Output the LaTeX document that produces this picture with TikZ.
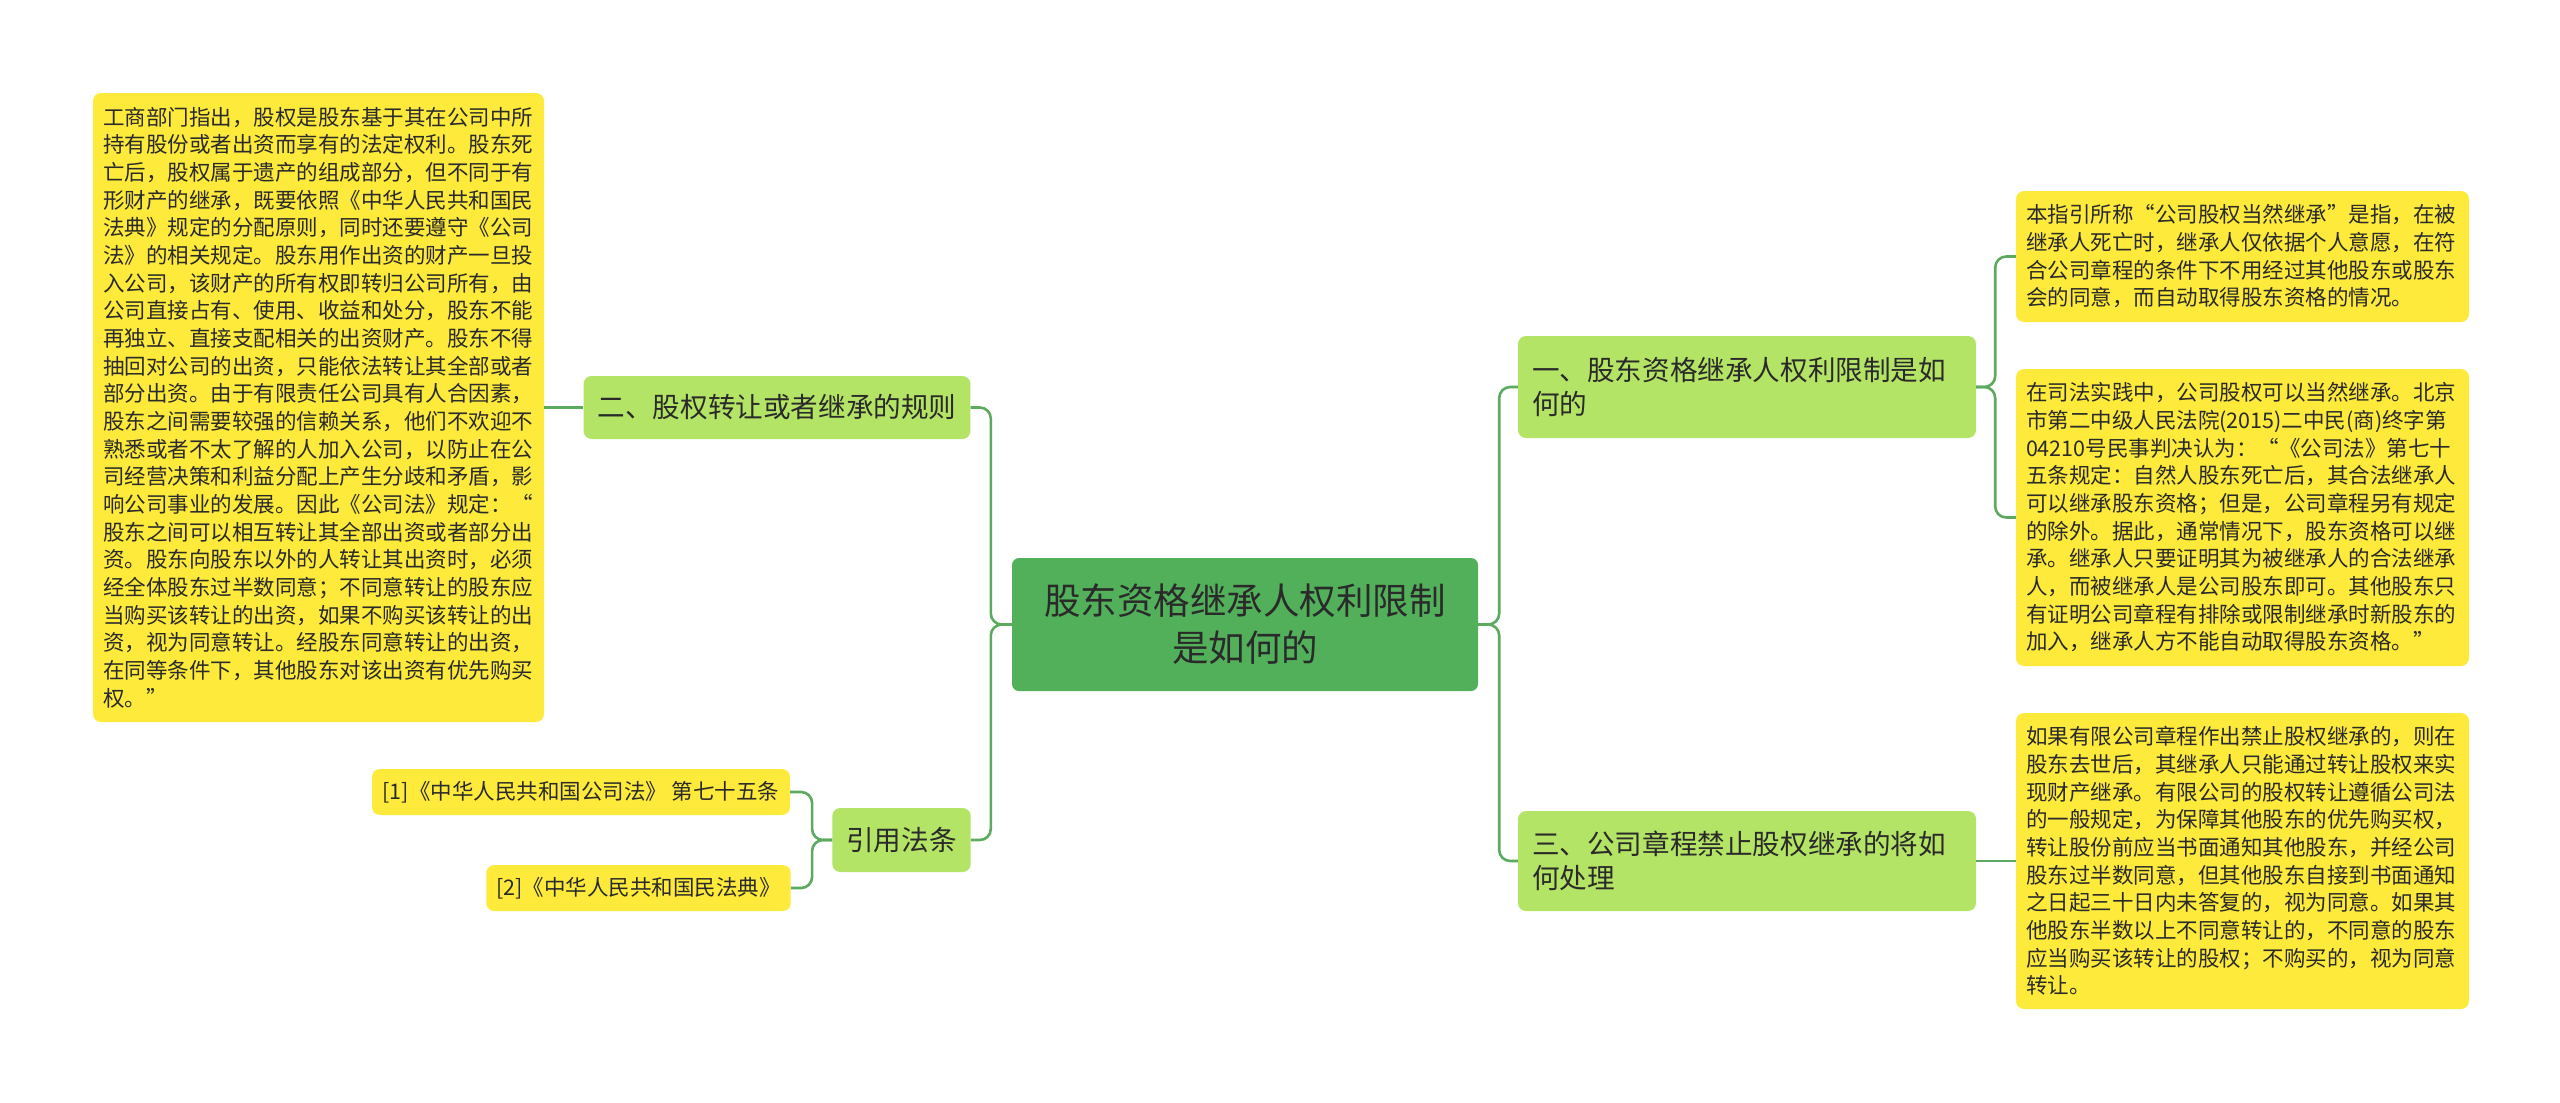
\documentclass[tikz,border=0pt]{standalone}
\usepackage{fontspec}
\setmainfont{Noto Sans CJK SC}

\definecolor{dunkelgruen}{HTML}{52B05A}
\definecolor{hellgruen}{HTML}{B4E465}
\definecolor{gelb}{HTML}{FEEA3A}
\definecolor{liniengruen}{HTML}{5BAA5E}
\definecolor{schrift}{HTML}{2A2A2A}

\tikzset{
    wurzel/.style={rectangle, rounded corners=7pt, fill=dunkelgruen, text=schrift, align=center,
        font=\fontsize{36.5}{47}\selectfont, minimum width=466pt, minimum height=133pt},
    ast/.style={rectangle, rounded corners=8pt, fill=hellgruen, text=schrift, align=left,
        font=\fontsize{27.6}{34}\selectfont, inner xsep=14pt},
    blatt/.style={rectangle, rounded corners=8pt, fill=gelb, text=schrift, align=left,
        font=\fontsize{21.5}{27.67}\selectfont, inner xsep=10pt},
    linie/.style={draw=liniengruen, line width=2.6pt, rounded corners=11pt}
}

\begin{document}
\begin{tikzpicture}[x=1pt, y=-1pt]
    \useasboundingbox (0,0) rectangle (2560,1103);
    \path node[wurzel] (W) at (1245,624.5) {股东资格继承人权利限制\\是如何的}
        node[ast, text width=430pt, minimum height=102pt] (E1) at (1747,387) {一、股东资格继承人权利限制是如\\何的}
        node[ast, text width=430pt, minimum height=100pt] (E3) at (1747,861) {三、公司章程禁止股权继承的将如\\何处理}
        node[ast, minimum width=386pt, minimum height=63pt] (E2) at (777,407.5) {二、股权转让或者继承的规则}
        node[ast, minimum width=137pt, minimum height=64pt] (Z) at (901.5,840) {引用法条}
        node[blatt, text width=433pt, minimum height=131pt] (E1a) at (2242.5,256.5) {本指引所称“公司股权当然继承”是指，在被\\继承人死亡时，继承人仅依据个人意愿，在符\\合公司章程的条件下不用经过其他股东或股东\\会的同意，而自动取得股东资格的情况。}
        node[blatt, text width=433pt, minimum height=297pt] (E1b) at (2242.5,517.5) {在司法实践中，公司股权可以当然继承。北京\\市第二中级人民法院(2015)二中民(商)终字第\\04210号民事判决认为：“《公司法》第七十\\五条规定：自然人股东死亡后，其合法继承人\\可以继承股东资格；但是，公司章程另有规定\\的除外。据此，通常情况下，股东资格可以继\\承。继承人只要证明其为被继承人的合法继承\\人，而被继承人是公司股东即可。其他股东只\\有证明公司章程有排除或限制继承时新股东的\\加入，继承人方不能自动取得股东资格。”}
        node[blatt, text width=433pt, minimum height=296pt] (E3a) at (2242.5,861) {如果有限公司章程作出禁止股权继承的，则在\\股东去世后，其继承人只能通过转让股权来实\\现财产继承。有限公司的股权转让遵循公司法\\的一般规定，为保障其他股东的优先购买权，\\转让股份前应当书面通知其他股东，并经公司\\股东过半数同意，但其他股东自接到书面通知\\之日起三十日内未答复的，视为同意。如果其\\他股东半数以上不同意转让的，不同意的股东\\应当购买该转让的股权；不购买的，视为同意\\转让。}
        node[blatt, text width=431pt, minimum height=629pt] (E2a) at (318.5,407.5) {工商部门指出，股权是股东基于其在公司中所\\持有股份或者出资而享有的法定权利。股东死\\亡后，股权属于遗产的组成部分，但不同于有\\形财产的继承，既要依照《中华人民共和国民\\法典》规定的分配原则，同时还要遵守《公司\\法》的相关规定。股东用作出资的财产一旦投\\入公司，该财产的所有权即转归公司所有，由\\公司直接占有、使用、收益和处分，股东不能\\再独立、直接支配相关的出资财产。股东不得\\抽回对公司的出资，只能依法转让其全部或者\\部分出资。由于有限责任公司具有人合因素，\\股东之间需要较强的信赖关系，他们不欢迎不\\熟悉或者不太了解的人加入公司，以防止在公\\司经营决策和利益分配上产生分歧和矛盾，影\\响公司事业的发展。因此《公司法》规定：“\\股东之间可以相互转让其全部出资或者部分出\\资。股东向股东以外的人转让其出资时，必须\\经全体股东过半数同意；不同意转让的股东应\\当购买该转让的出资，如果不购买该转让的出\\资，视为同意转让。经股东同意转让的出资，\\在同等条件下，其他股东对该出资有优先购买\\权。”}
        node[blatt, minimum width=418pt, minimum height=46pt] (Z1) at (581,792) {[1]《中华人民共和国公司法》 第七十五条}
        node[blatt, minimum width=303pt, minimum height=46pt] (Z2) at (638.5,888) {[2]《中华人民共和国民法典》};
    \draw[linie] (W.east) -- ++(21,0) |- (E1.west);
    \draw[linie] (W.east) -- ++(21,0) |- (E3.west);
    \draw[linie] (W.west) -- ++(-21,0) |- (E2.east);
    \draw[linie] (W.west) -- ++(-21,0) |- (Z.east);
    \draw[linie] (E1.east) -- ++(19,0) |- (E1a.west);
    \draw[linie] (E1.east) -- ++(19,0) |- (E1b.west);
    \draw[linie] (E3.east) -- (E3a.west);
    \draw[linie] (E2.west) -- (E2a.east);
    \draw[linie] (Z.west) -- ++(-20,0) |- (Z1.east);
    \draw[linie] (Z.west) -- ++(-20,0) |- (Z2.east);
\end{tikzpicture}
\end{document}
